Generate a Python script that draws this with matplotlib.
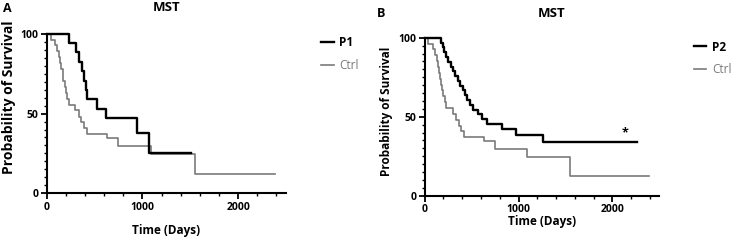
import matplotlib
matplotlib.use("Agg")
import matplotlib.pyplot as plt
from matplotlib.ticker import MultipleLocator
from matplotlib.lines import Line2D

plt.rcParams['font.family'] = ['Open Sans', 'DejaVu Sans']
plt.rcParams['font.weight'] = 'bold'

# Kaplan-Meier steps (days, % survival)
ctrl_t = [0, 40, 85, 110, 128, 140, 152, 165, 175, 188, 200, 212, 228, 300, 335,
          362, 388, 420, 630, 745, 1085, 1545, 2390]
ctrl_s = [100, 96.3, 92.6, 88.9, 85.2, 81.5, 77.8, 74.1, 70.4, 66.7, 63.0, 59.3,
          55.6, 51.9, 48.1, 44.4, 40.7, 37.0, 34.7, 29.8, 24.8, 12.4, 12.4]

p1_t = [0, 235, 303, 340, 370, 392, 410, 425, 530, 620, 948, 1066, 1506]
p1_s = [100, 94.1, 88.2, 82.4, 76.5, 70.6, 64.7, 58.8, 52.9, 47.1, 37.6, 25.1, 25.1]

p2_t = [0, 170, 190, 205, 225, 250, 280, 300, 320, 355, 375, 405, 429, 454, 483,
        518, 571, 607, 660, 820, 970, 1256, 2259]
p2_s = [100, 97.0, 93.9, 90.9, 87.9, 84.8, 81.8, 78.8, 75.8, 72.7, 69.7, 66.7,
        63.6, 60.6, 57.6, 54.5, 51.5, 48.5, 45.5, 42.4, 38.3, 34.1, 34.1]

star_x, star_y = 2134, 40

panels = [
    ("A", "P1", p1_t, p1_s, [0.0628, 0.194, 0.3216, 0.666], 10),
    ("B", "P2", p2_t, p2_s, [0.5708, 0.1846, 0.3155, 0.658], 8.5),
]

GRAY = "#7a7a7a"
fig = plt.figure(figsize=(7.44, 2.4), dpi=100)

axes = []
for letter, name, t, s, rect, ylab_size in panels:
    ax = fig.add_axes(rect)
    ax.step(t, s, where="post", color="black", lw=1.7, clip_on=False, zorder=3)
    ax.step(ctrl_t, ctrl_s, where="post", color=GRAY, lw=1.2, clip_on=False, zorder=2)
    ax.set_xlim(0, 2500)
    ax.set_ylim(0, 100)
    ax.set_xticks([0, 1000, 2000])
    ax.set_yticks([0, 50, 100])
    ax.xaxis.set_minor_locator(MultipleLocator(200))
    ax.yaxis.set_minor_locator(MultipleLocator(5))
    for sp in ("top", "right"):
        ax.spines[sp].set_visible(False)
    for sp in ("left", "bottom"):
        ax.spines[sp].set_linewidth(1.5)
    ax.tick_params(which="major", length=4, width=1.3, labelsize=7.5, pad=2)
    ax.tick_params(which="minor", length=2.5, width=1.0)
    ax.set_xlabel("Time (Days)", fontsize=8.5, fontweight="bold")
    ax.set_ylabel("Probability of Survival", fontsize=ylab_size, fontweight="bold")
    handles = [Line2D([], [], color="black", lw=1.7), Line2D([], [], color=GRAY, lw=1.2)]
    leg = ax.legend(handles, [name, "Ctrl"], loc="upper left", bbox_to_anchor=(1.1, 1.05),
                    frameon=False, handlelength=1.1, handletextpad=0.5, labelspacing=0.8,
                    fontsize=8.5)
    leg.get_texts()[1].set_color(GRAY)
    leg.get_texts()[1].set_fontweight("normal")
    axes.append(ax)

axA, axB = axes
axA.text(0.5, 1.166, "MST", transform=axA.transAxes, ha="center", va="center",
         fontsize=9.5, fontweight="bold")
axB.text(0.542, 1.156, "MST", transform=axB.transAxes, ha="center", va="center",
         fontsize=9.5, fontweight="bold")
axB.text(star_x, star_y, "*", ha="center", va="center", fontsize=9, fontweight="bold")

axA.yaxis.set_label_coords(-0.13, 0.6)
axB.yaxis.set_label_coords(-0.135, 0.535)
axA.xaxis.set_label_coords(0.5, -0.19)
axB.xaxis.set_label_coords(0.5, -0.12)

fig.text(0.004, 0.965, "A", fontsize=9, fontweight="bold", va="center")
fig.text(0.507, 0.945, "B", fontsize=9, fontweight="bold", va="center")

fig.savefig("out.png", dpi=100)
